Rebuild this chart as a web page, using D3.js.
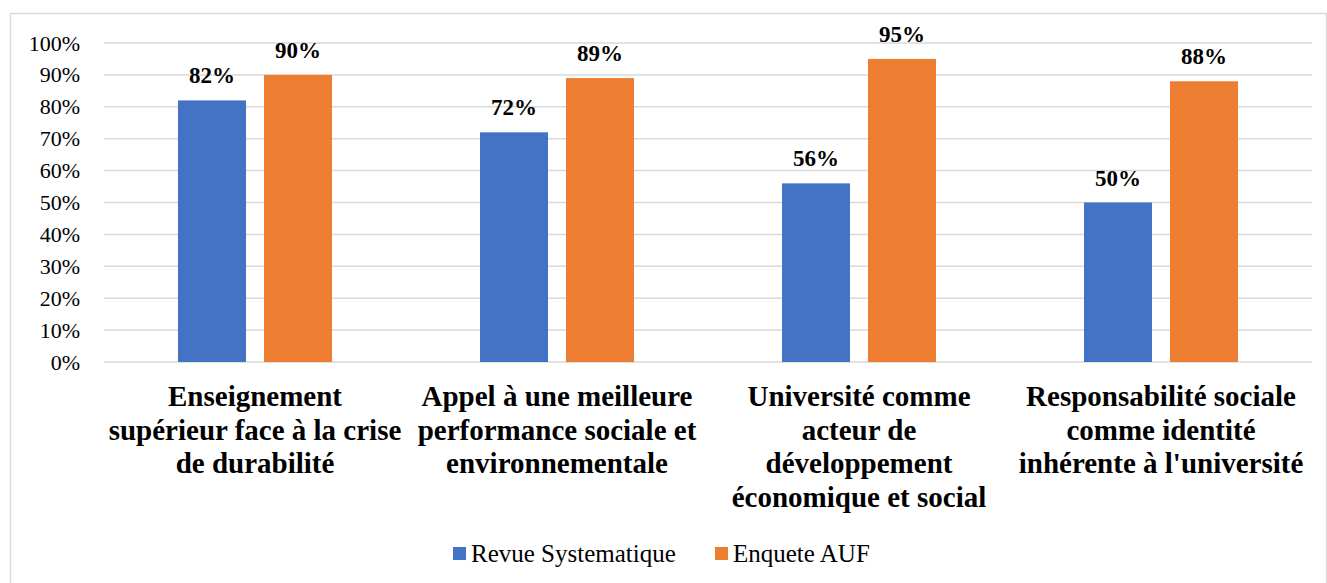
<!DOCTYPE html>
<html>
<head>
<meta charset="utf-8">
<script src="https://cdn.jsdelivr.net/npm/d3@7"></script>
<style>
  html, body { margin: 0; padding: 0; background: #fff; }
  svg { display: block; }
</style>
</head>
<body>
<svg id="chart" width="1327" height="583"></svg>
<script>
// Chart data
const categories = [
  ["Enseignement", "supérieur face à la crise", "de durabilité"],
  ["Appel à une meilleure", "performance sociale et", "environnementale"],
  ["Université comme", "acteur de", "développement", "économique et social"],
  ["Responsabilité sociale", "comme identité", "inhérente à l'université"]
];
const seriesNames = ["Revue Systematique", "Enquete AUF"];
const revueValues = [82, 72, 56, 50];
const enqueteValues = [90, 89, 95, 88];
const yTicks = [0, 10, 20, 30, 40, 50, 60, 70, 80, 90, 100];
const colors = ["#4472C4", "#ED7D31"];

const FONT = "Liberation Serif";

const svg = d3.select("#chart");
const W = 1327, H = 583;

// outer frame
svg.append("rect")
  .attr("x", 10.5).attr("y", 13.5)
  .attr("width", W - 11).attr("height", H)
  .attr("fill", "#fff").attr("stroke", "#d9d9d9").attr("stroke-width", 1.5);

const plot = { left: 104, right: 1312, top: 43, bottom: 362 };

const x0 = d3.scaleBand()
  .domain(d3.range(categories.length))
  .range([plot.left, plot.right]);

// two bars of equal width with a narrow gap, centred in each band
const x1 = d3.scaleBand()
  .domain(d3.range(seriesNames.length))
  .range([74, x0.bandwidth() - 74])
  .paddingInner(18 / 86);

const y = d3.scaleLinear().domain([0, 100]).range([plot.bottom, plot.top]);

// gridlines
svg.append("g")
  .selectAll("line")
  .data(yTicks)
  .join("line")
  .attr("x1", plot.left).attr("x2", plot.right)
  .attr("y1", d => y(d)).attr("y2", d => y(d))
  .attr("stroke", "#d9d9d9").attr("stroke-width", 1.5);

// y axis labels
const yAxis = d3.axisLeft(y).tickValues(yTicks).tickFormat(d => d + "%").tickSize(0).tickPadding(0);
const yg = svg.append("g").attr("transform", `translate(80,0)`).call(yAxis);
yg.attr("font-family", null).attr("font-size", null);
yg.select(".domain").remove();
yg.selectAll("text")
  .attr("fill", "#000")
  .style("font-family", FONT)
  .style("font-size", "22px");

// bars
const series = [revueValues, enqueteValues];
const groups = svg.append("g")
  .selectAll("g")
  .data(categories.map((c, i) => i))
  .join("g")
  .attr("transform", i => `translate(${x0(i)},0)`);

groups.selectAll("rect")
  .data(i => series.map((s, k) => ({ k, v: s[i] })))
  .join("rect")
  .attr("x", d => x1(d.k))
  .attr("width", x1.bandwidth())
  .attr("y", d => y(d.v))
  .attr("height", d => y(0) - y(d.v))
  .attr("fill", d => colors[d.k]);

groups.selectAll("text.val")
  .data(i => series.map((s, k) => ({ k, v: s[i] })))
  .join("text")
  .attr("class", "val")
  .attr("x", d => x1(d.k) + x1.bandwidth() / 2)
  .attr("y", d => y(d.v) - 17)
  .attr("text-anchor", "middle")
  .style("font-family", FONT)
  .style("font-size", "23px")
  .style("font-weight", "bold")
  .text(d => d.v + "%");

// category labels
const catG = svg.append("g")
  .selectAll("text")
  .data(categories)
  .join("text")
  .attr("text-anchor", "middle")
  .style("font-family", FONT)
  .style("font-size", "29px")
  .style("font-weight", "bold")
  .attr("transform", (d, i) => `translate(${x0(i) + x0.bandwidth() / 2},0)`);

catG.selectAll("tspan")
  .data(d => d)
  .join("tspan")
  .attr("x", 0)
  .attr("y", (d, j) => 406 + j * 33.7)
  .text(d => d);

// legend
const legendX = [453, 715];
const legend = svg.append("g")
  .selectAll("g")
  .data(seriesNames)
  .join("g")
  .attr("transform", (d, i) => `translate(${legendX[i]},547)`);
legend.append("rect")
  .attr("width", 13).attr("height", 13)
  .attr("fill", (d, i) => colors[i]);
legend.append("text")
  .attr("x", 18).attr("y", 15)
  .style("font-family", FONT)
  .style("font-size", "25px")
  .text(d => d);
</script>
</body>
</html>
